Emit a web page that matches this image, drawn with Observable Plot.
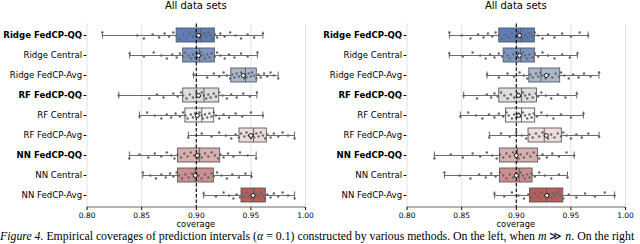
<!DOCTYPE html>
<html>
<head>
<meta charset="utf-8">
<script src="https://cdn.jsdelivr.net/npm/d3@7"></script>
<script src="https://cdn.jsdelivr.net/npm/@observablehq/plot@0.6"></script>
<style>
  html, body { margin: 0; padding: 0; background: #fff; }
  body { width: 640px; height: 244px; overflow: hidden; position: relative; }
  .row { display: flex; position: absolute; left: 0; top: 0; }
  .panel { position: relative; width: 320px; height: 232px; }
  .title { position: absolute; top: 0; left: 86.6px; width: 218.4px; text-align: center;
           font: 10px "DejaVu Sans"; line-height: 12px; color: #000; }
  .xlabel { position: absolute; top: 219px; left: 86.6px; width: 218.4px; text-align: center;
            font: 8.3px "DejaVu Sans"; line-height: 10px; color: #000; }
  .caption { position: absolute; top: 231px; left: 0; white-space: nowrap;
             font-family: "Liberation Serif"; font-size: 11.8px; line-height: 1; color: #000; }
  svg { display: block; }
</style>
</head>
<body>
<div class="row" id="row"></div>
<div class="caption"><i>Figure 4.</i> Empirical coverages of prediction intervals (<i>α</i> = 0.1) constructed by various methods. On the left, when <i>m</i> ≫ <i>n</i>. On the right</div>
<script>
const methods = ["Ridge FedCP-QQ","Ridge Central","Ridge FedCP-Avg","RF FedCP-QQ","RF Central","RF FedCP-Avg","NN FedCP-QQ","NN Central","NN FedCP-Avg"];
const boldMethods = ["Ridge FedCP-QQ","RF FedCP-QQ","NN FedCP-QQ"];
const boxColors = ["#5b7ebb","#7b95c3","#a9b7cf","#dcdcdc","#f4f4f4","#eedcdc","#d9aeae","#cc8f8f","#b85c5c"];
const xTicks = [0.80,0.85,0.90,0.95,1.00];
const targetCoverage = 0.90;
const panelTitles = ["All data sets","All data sets"];

// Left panel (m >> n) box statistics
const leftMin    = [0.814,0.839,0.8975,0.829,0.848,0.8927,0.8387,0.851,0.9067];
const leftQ1     = [0.882,0.888,0.932,0.888,0.890,0.9396,0.8832,0.8832,0.9414];
const leftMedian = [0.904,0.903,0.945,0.907,0.905,0.9524,0.903,0.899,0.9524];
const leftQ3     = [0.917,0.917,0.9554,0.921,0.9164,0.9646,0.9219,0.9161,0.9637];
const leftMax    = [0.961,0.956,0.975,0.9555,0.961,0.990,0.9548,0.9505,0.990];
const leftMean   = [0.902,0.902,0.943,0.902,0.901,0.950,0.901,0.899,0.952];

// Right panel box statistics
const rightMin    = [0.8387,0.8387,0.8732,0.8518,0.8488,0.8753,0.825,0.8342,0.880];
const rightQ1     = [0.8844,0.8884,0.9119,0.8844,0.8905,0.9112,0.885,0.885,0.9125];
const rightMedian = [0.904,0.904,0.9225,0.9048,0.9048,0.9256,0.901,0.9027,0.9277];
const rightQ3     = [0.917,0.917,0.9402,0.9189,0.9173,0.9417,0.920,0.9149,0.943];
const rightMax    = [0.9658,0.956,0.9758,0.9554,0.9615,0.9758,0.953,0.9469,0.990];
const rightMean   = [0.903,0.903,0.9275,0.902,0.902,0.9275,0.900,0.900,0.928];

// Per-data-set coverages (strip points), one list per method
const leftPoints = [
  [.814,.846,.852,.860,.866,.871,.875,.879,.882,.885,.888,.891,.894,.897,.899,.901,.903,.904,.905,.907,.909,.911,.913,.915,.917,.919,.922,.926,.931,.936,.941,.947,.953,.961],
  [.839,.852,.861,.868,.873,.878,.882,.885,.888,.890,.893,.895,.897,.899,.901,.903,.904,.906,.908,.910,.912,.914,.917,.919,.922,.926,.930,.935,.941,.947,.956],
  [.8975,.910,.916,.921,.925,.928,.931,.933,.935,.937,.939,.941,.943,.944,.945,.946,.948,.950,.951,.953,.955,.957,.959,.962,.965,.968,.971,.975],
  [.829,.857,.864,.870,.879,.883,.886,.888,.891,.894,.897,.900,.903,.905,.907,.909,.911,.913,.916,.918,.921,.924,.928,.932,.937,.943,.949,.9555],
  [.848,.855,.862,.868,.873,.877,.881,.885,.888,.890,.892,.895,.897,.899,.901,.903,.905,.906,.908,.910,.912,.914,.916,.918,.921,.925,.930,.936,.942,.950,.961],
  [.8927,.905,.914,.921,.927,.932,.936,.939,.941,.944,.946,.948,.950,.952,.953,.955,.957,.959,.961,.963,.965,.968,.971,.975,.979,.984,.990],
  [.8387,.848,.856,.862,.868,.873,.877,.880,.883,.886,.889,.892,.895,.898,.901,.903,.905,.908,.911,.914,.917,.920,.922,.925,.929,.934,.940,.947,.9548],
  [.851,.858,.863,.868,.872,.876,.879,.882,.884,.887,.890,.893,.896,.898,.900,.902,.905,.908,.911,.914,.916,.919,.923,.928,.933,.939,.945,.9505],
  [.9067,.918,.925,.930,.934,.937,.940,.942,.944,.946,.948,.950,.952,.953,.955,.957,.959,.961,.963,.965,.968,.971,.975,.979,.984,.990]
];
const rightPoints = [
  [.8387,.850,.858,.865,.870,.874,.878,.881,.884,.887,.890,.893,.896,.899,.902,.904,.906,.908,.910,.912,.915,.917,.920,.924,.929,.935,.942,.950,.958,.9658],
  [.8387,.851,.860,.867,.872,.876,.880,.884,.887,.889,.892,.894,.897,.900,.902,.904,.906,.908,.910,.912,.915,.917,.920,.924,.929,.935,.942,.949,.956],
  [.8732,.884,.892,.898,.903,.907,.910,.913,.915,.918,.920,.922,.924,.927,.930,.933,.936,.939,.941,.944,.948,.952,.957,.962,.968,.9758],
  [.8518,.864,.873,.877,.880,.883,.886,.889,.892,.895,.898,.901,.904,.906,.908,.910,.912,.915,.918,.920,.923,.927,.932,.938,.945,.9554],
  [.8488,.856,.863,.869,.875,.880,.884,.888,.891,.893,.896,.898,.900,.902,.904,.906,.908,.910,.912,.914,.916,.919,.923,.928,.934,.941,.950,.9615],
  [.8753,.886,.894,.900,.905,.909,.912,.915,.918,.921,.924,.926,.929,.932,.935,.938,.941,.943,.946,.950,.955,.960,.966,.9758],
  [.825,.840,.851,.860,.867,.873,.878,.882,.885,.888,.891,.894,.897,.900,.902,.904,.907,.910,.913,.916,.919,.921,.924,.928,.933,.939,.946,.953],
  [.8342,.848,.858,.866,.872,.877,.881,.885,.888,.891,.894,.897,.900,.902,.904,.906,.908,.910,.912,.914,.917,.921,.926,.932,.939,.9469],
  [.880,.889,.896,.902,.907,.911,.914,.917,.920,.923,.926,.928,.930,.932,.934,.936,.938,.940,.943,.948,.955,.963,.972,.981,.990]
];

function panel(s, pts) {
  const boxes = methods.map((m, i) => ({
    method: m, min: s.min[i], q1: s.q1[i], med: s.med[i], q3: s.q3[i],
    max: s.max[i], mean: s.mean[i], color: boxColors[i]
  }));
  const dots = pts.flatMap((arr, i) => arr.map((v, j) => ({method: methods[i], value: v, k: (j * 3 + i) % 7})));
  const jitter = d3.range(7).map(k =>
    Plot.dot(dots.filter(d => d.k === k), {x: "value", y: "method", dy: k - 3, r: 1.2, fill: "#666", stroke: "none"}));
  const edge = "#5a5a5a";
  const svg = Plot.plot({
    width: 320, height: 232,
    marginTop: 23.5, marginBottom: 25, marginLeft: 86.6, marginRight: 15,
    style: {fontFamily: "DejaVu Sans", fontSize: "7.5px", color: "#000", background: "transparent", overflow: "visible"},
    x: {domain: [0.8, 1.0], ticks: xTicks, tickFormat: d3.format(".2f"), tickSize: 3, tickPadding: 2, label: null},
    y: {domain: methods, paddingInner: 0.3, paddingOuter: 0.15, tickSize: 3, tickPadding: 2, label: null},
    color: {type: "identity"},
    marks: [
      Plot.ruleX(xTicks, {stroke: "#e2e2e2", strokeWidth: 1}),
      Plot.ruleY(boxes, {y: "method", x1: "min", x2: "max", stroke: edge, strokeWidth: 0.9}),
      Plot.tickX(boxes, {x: "min", y: "method", stroke: edge, strokeWidth: 0.9, insetTop: 3.5, insetBottom: 3.5}),
      Plot.tickX(boxes, {x: "max", y: "method", stroke: edge, strokeWidth: 0.9, insetTop: 3.5, insetBottom: 3.5}),
      Plot.barX(boxes, {x1: "q1", x2: "q3", y: "method", fill: "color", stroke: edge, strokeWidth: 0.9}),
      Plot.tickX(boxes, {x: "med", y: "method", stroke: edge, strokeWidth: 0.9}),
      ...jitter,
      Plot.ruleX([targetCoverage], {stroke: "#000", strokeDasharray: "3.5,2", strokeWidth: 1.1}),
      Plot.dot(boxes, {x: "mean", y: "method", r: 2, fill: "#fff", stroke: "#000", strokeWidth: 0.9})
    ]
  });
  const sel = d3.select(svg);
  // y tick labels: larger font, bold for FedCP-QQ rows
  sel.selectAll("text")
    .filter(function() { return methods.includes(this.textContent); })
    .attr("font-size", "8.6px")
    .attr("font-weight", function() { return boldMethods.includes(this.textContent) ? "bold" : null; });
  // bottom spine
  sel.append("line")
    .attr("x1", 86.6).attr("x2", 305).attr("y1", 207).attr("y2", 207)
    .attr("stroke", "#444").attr("stroke-width", 0.8);
  return svg;
}

const row = document.getElementById("row");
const stats = [
  {min: leftMin, q1: leftQ1, med: leftMedian, q3: leftQ3, max: leftMax, mean: leftMean},
  {min: rightMin, q1: rightQ1, med: rightMedian, q3: rightQ3, max: rightMax, mean: rightMean}
];
const points = [leftPoints, rightPoints];
for (let p = 0; p < 2; p++) {
  const div = document.createElement("div");
  div.className = "panel";
  div.appendChild(panel(stats[p], points[p]));
  const t = document.createElement("div"); t.className = "title"; t.textContent = panelTitles[p]; div.appendChild(t);
  const xl = document.createElement("div"); xl.className = "xlabel"; xl.textContent = "coverage"; div.appendChild(xl);
  row.appendChild(div);
}
</script>
</body>
</html>
